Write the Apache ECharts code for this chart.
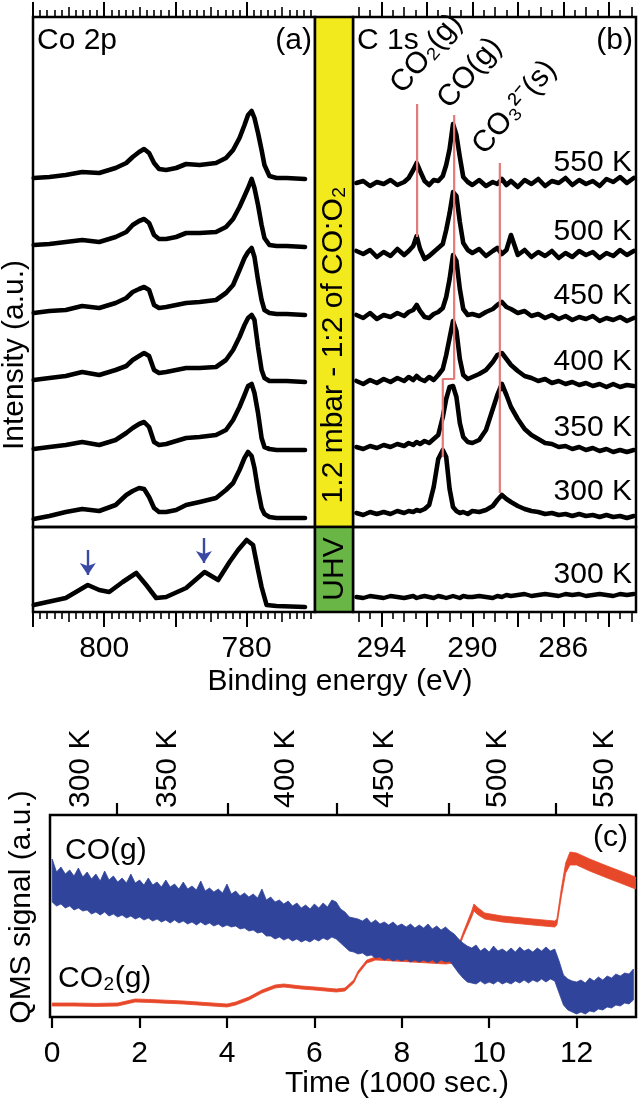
<!DOCTYPE html>
<html><head><meta charset="utf-8">
<script src="https://cdn.jsdelivr.net/npm/echarts@6/dist/echarts.min.js"></script>
<style>html,body{margin:0;padding:0;background:#fff}#c{width:640px;height:1101px}</style>
</head><body><div id="c"></div>
<script>
// ---------- Panel (a): Co 2p ----------
const coBE = [809.9, 807.7, 805.4, 803.1, 800.7, 798.4, 796.9, 796.0, 795.1, 794.4, 793.7, 793.0, 792.3, 791.3, 789.9, 788.5, 786.6, 784.3, 782.9, 781.9, 781.0, 780.3, 779.8, 779.3, 778.9, 778.4, 777.9, 777.5, 776.8, 775.8, 774.4, 771.8];
const co550 = [349, 350, 352, 355, 354, 359, 364, 370, 375, 378, 374, 364, 358, 357, 359, 363, 362, 364, 369, 377, 389, 402, 412, 416, 409, 394, 377, 362, 351, 349, 349, 348];
const co500 = [282, 283, 285, 287, 285, 290, 295, 302, 306, 308, 304, 292, 288, 288, 290, 294, 294, 295, 300, 308, 320, 331, 339, 348, 339, 322, 302, 289, 282, 281, 281, 280];
const co450 = [214, 216, 217, 221, 219, 224, 229, 235, 238, 240, 237, 222, 219, 220, 222, 224, 225, 227, 234, 242, 257, 269, 275, 279, 270, 247, 227, 217, 214, 213, 213, 212];
const co400 = [147, 149, 151, 155, 152, 157, 161, 167, 171, 174, 171, 157, 154, 155, 157, 159, 159, 160, 167, 177, 190, 202, 209, 212, 207, 180, 157, 149, 146, 146, 146, 145];
const co350 = [78, 80, 82, 85, 82, 87, 94, 99, 103, 105, 100, 85, 82, 83, 86, 89, 90, 92, 97, 107, 120, 132, 141, 143, 134, 114, 89, 80, 78, 77, 77, 77];
const co300 = [8, 11, 15, 18, 16, 22, 32, 36, 39, 38, 30, 19, 15, 15, 17, 22, 25, 29, 37, 44, 57, 69, 75, 71, 59, 37, 19, 13, 10, 9, 9, 9];
const coUhvBE = [809.9, 805.4, 802.3, 800.7, 799.3, 797.4, 795.5, 794.1, 792.7, 791.3, 788.5, 785.9, 784.0, 782.4, 781.2, 780.0, 779.1, 778.4, 777.9, 777.2, 775.8, 771.8];
const coUhv = [7, 14, 27, 22, 20, 30, 39, 27, 14, 15, 24, 40, 32, 50, 62, 72, 67, 42, 25, 7, 6, 5];
const coArrows = [[802.3, 62, 37], [786.0, 74, 49]];
const coMajorTicks = [780, 790, 800, 810];
const coMidTicks = [775, 785, 795, 805];
const coMinorTicks = [771,772,773,774,776,777,778,779,781,782,783,784,786,787,788,789,791,792,793,794,796,797,798,799,801,802,803,804,806,807,808,809];
const coTickLabels = [780, 800];

// ---------- Panel (b): C 1s ----------
const c1sBE = [295.1, 294.8, 294.5, 294.2, 293.9, 293.6, 293.3, 293.0, 292.8, 292.6, 292.45, 292.3, 292.1, 291.9, 291.7, 291.5, 291.3, 291.15, 291.0, 290.85, 290.7, 290.55, 290.4, 290.2, 290.0, 289.7, 289.4, 289.1, 288.9, 288.7, 288.5, 288.3, 288.0, 287.7, 287.4, 287.1, 286.8, 286.5, 286.2, 285.9, 285.6, 285.3, 285.0, 284.7, 284.4, 284.1, 283.8, 283.5, 283.2, 282.9];
const c550 = [344,346,341,345,343,347,342,345,349,357,364,356,346,342,347,346,351,362,378,403,392,370,350,345,342,347,341,345,343,348,342,346,340,347,343,348,341,346,344,349,342,347,343,346,341,348,345,350,344,349];
const c500 = [276,273,277,270,275,271,278,272,276,281,291,278,268,271,275,279,283,297,314,335,331,305,284,277,274,278,271,276,279,273,277,292,272,277,270,275,271,276,269,274,270,276,272,275,269,274,271,277,272,276];
const c450 = [212,209,214,208,212,210,214,211,215,217,222,216,210,209,213,215,219,230,248,272,266,238,218,212,213,211,215,218,222,225,220,218,214,216,211,213,209,212,208,211,207,210,208,211,206,209,207,210,206,209];
const c400 = [146,143,147,144,148,145,149,146,150,147,151,148,146,150,147,152,158,172,189,206,196,168,152,148,150,153,157,165,172,174,168,162,156,151,149,146,148,144,146,143,145,142,144,141,143,140,143,140,142,141];
const c350 = [80,78,81,79,82,80,83,81,84,82,85,83,86,84,88,92,110,128,140,141,130,104,90,85,84,87,97,118,132,143,132,120,108,98,92,88,84,83,80,81,78,80,77,79,76,78,75,77,75,77];
const c300 = [14,12,15,13,15,13,16,14,16,15,17,16,18,22,40,68,77,70,38,20,16,14,15,13,16,15,17,21,27,32,28,25,21,18,16,15,13,14,12,13,11,13,11,12,10,12,10,11,9,11];
const c1sUhv = [15,14,16,15,14,16,15,14,15,16,14,15,16,15,14,16,15,14,15,16,15,14,16,15,15,16,15,14,16,15,17,16,17,18,16,17,18,17,16,18,17,18,16,17,18,17,16,18,17,18];
const refCO2 = [[292.43, 423], [292.43, 290]];
const refCO = [[290.8, 412], [290.8, 148], [291.3, 148], [291.3, 70]];
const refCO3 = [[288.79, 364], [288.79, 34]];
const cMajorTicks = [284, 286, 288, 290, 292, 294];
const cMidTicks = [283, 285, 287, 289, 291, 293, 295];
const cMinorTicks = [283.5, 284.5, 285.5, 286.5, 287.5, 288.5, 289.5, 290.5, 291.5, 292.5, 293.5, 294.5];
const cTickLabels = [286, 290, 294];
const tempNames = ['550 K', '500 K', '450 K', '400 K', '350 K', '300 K'];

// ---------- Panel (c): QMS ----------
// [time (1000 s), lower edge, upper edge]
const qmsCO = [
[0.0,57.5,79],[0.1,55.5,72.5],[0.2,56.5,75],[0.3,54.5,71.5],[0.4,55.5,73.5],[0.5,53.5,70.5],[0.6,54.5,74.5],[0.7,53,70],[0.8,53.5,72.5],[0.9,51.5,69],
[1.0,52.5,71.5],[1.1,51,68],[1.2,52.5,73],[1.3,50.5,68.5],[1.4,51.5,70.5],[1.5,50,67.5],[1.6,51,69.5],[1.7,49.5,67],[1.8,50.5,71.5],[1.9,49,67],
[2.0,50,68.5],[2.1,48.5,66],[2.2,49.5,69.5],[2.3,48,66],[2.4,49,67.5],[2.5,47.5,65],[2.6,48.5,68.5],[2.7,47,65],[2.8,48.5,66.5],[2.9,47,64],
[3.0,48,67.5],[3.1,46.5,64],[3.2,47.5,65.5],[3.3,46,63.5],[3.4,47.5,68],[3.5,46,63],[3.6,47,64.5],[3.7,45.5,62.5],[3.8,46.5,64],[3.9,45,62],
[4.0,46,66.5],[4.1,45,61.5],[4.2,45.5,63],[4.3,44,60.5],[4.4,44.5,62],[4.5,43,60],[4.6,43.5,61.5],[4.7,42,59.5],[4.8,42.5,64],[4.9,40.5,58.5],
[5.0,40.5,60],[5.1,39,57.5],[5.2,40,58.5],[5.3,38.5,56.5],[5.4,39.5,58],[5.5,38,55.5],[5.6,39,57],[5.7,37.5,54.5],[5.8,38.5,56],[5.9,37.5,54],
[6.0,39,56.5],[6.1,38,54.5],[6.2,39.5,57],[6.3,38.5,55],[6.4,40,58.5],[6.5,39,57.5],[6.6,37,54],[6.7,35,52.5],[6.8,33,50],[6.9,32.5,49.5],
[7.0,31.5,49],[7.1,32,48],[7.2,30.5,49.5],[7.3,31,47],[7.4,29.5,48.5],[7.5,30,46.5],[7.6,28.5,47.5],[7.7,29.5,46],[7.8,28,47.5],[7.9,29,45.5],
[8.0,28,46.5],[8.1,29,45],[8.2,27.5,46.5],[8.3,28.5,44.5],[8.4,27.5,46],[8.5,28.5,44.5],[8.6,27.5,46.5],[8.7,28.5,44],[8.8,27,45.5],[8.9,28.5,43.5],
[9.0,27.5,45],[9.1,28,43],[9.2,25,41.5],[9.3,22,39],[9.4,19.5,37],[9.5,17.5,35.5],[9.6,17,34.5],[9.7,16.5,36],[9.8,18,33],[9.9,16.5,34.5],
[10.0,17.5,32.5],[10.1,16.5,35.5],[10.2,18,33],[10.3,16.5,34],[10.4,17.5,32.5],[10.5,16.5,34.5],[10.6,18,32.5],[10.7,17,35],[10.8,18.5,33],[10.9,17,34],
[11.0,18.5,32.5],[11.1,17.5,34.5],[11.2,19,33],[11.3,17.5,35],[11.4,19,33],[11.5,18,34],[11.6,12,28],[11.7,6,21],[11.8,3.5,19],[11.9,2.5,18],
[12.0,1.5,17.5],[12.1,2.5,18.5],[12.2,1.5,17],[12.3,3,19.5],[12.4,2.5,18],[12.5,4,20],[12.6,3.5,18.5],[12.7,5,20.5],[12.8,4.5,19.5],[12.9,6,21.5],
[13.0,5.5,20.5],[13.1,7,22],[13.2,6.5,21.5],[13.3,8.5,24]
];
const qmsCO2 = [
[0.0,5.5,7],[0.5,5.5,7],[1.0,5.3,6.8],[1.5,5.5,7],[1.7,6.5,8],[1.9,7.5,9],[2.2,7.3,8.8],[3.0,6.5,8],[4.0,5,6.5],[4.2,6,7.5],
[4.5,8.5,10],[4.8,12,13.5],[5.1,14.5,16],[5.3,15,16.5],[5.7,14,15.5],[6.0,13.5,15],[6.5,12.5,14],[6.7,13,14.5],[6.9,17,18.5],[7.0,21.5,23],
[7.2,27,28.5],[7.4,28.5,30],[8.0,27.8,29.3],[9.0,26.5,28],[9.2,27,28.5],[9.3,34,36],[9.4,40,42],[9.5,45,47.5],[9.6,50,53],[9.65,53,56.5],
[9.75,51,54.5],[9.9,49,52],[10.3,47.5,50.5],[11.0,46,49],[11.5,45,48],[11.55,46,49],[11.65,60,64],[11.75,72,77],[11.85,76,82.5],[12.0,76,82],
[12.3,73,79],[12.7,69.5,75.5],[13.0,67,73],[13.35,64,70]
];
const timeTicks = [0, 2, 4, 6, 8, 10, 12];
const tempBoundaries = [1.48, 4.02, 6.52, 9.08, 11.53];
const tempLabelPos = [0.65, 2.65, 5.35, 7.6, 10.2, 12.65];
const tempLabels = ['300 K', '350 K', '400 K', '450 K', '500 K', '550 K'];

// ---------- chart ----------
const FONT = '"Liberation Sans", Arial, Helvetica, sans-serif';
const BLUE = '#30449b', RED = '#e8482a', PINK = '#e47a7a';
const chart = echarts.init(document.getElementById('c'), null, {renderer: 'canvas'});

const gridDefs = [
  {left: 33, top: 17, width: 282, height: 510},
  {left: 33, top: 527, width: 282, height: 85},
  {left: 353, top: 17, width: 283, height: 510},
  {left: 353, top: 527, width: 283, height: 85},
  {left: 50, top: 815, width: 586, height: 202}
].map(g => Object.assign({show: true, borderColor: '#000', borderWidth: 2.5, backgroundColor: 'rgba(0,0,0,0)', containLabel: false, outerBoundsMode: 'none'}, g));

function xax(gridIndex, position, min, max, inverse, ticks, len, width, labels, extra) {
  const a = {
    type: 'value', gridIndex, position, min, max, inverse,
    axisLine: {show: false, onZero: false},
    splitLine: {show: false},
    axisTick: {show: true, inside: false, length: len, customValues: ticks, lineStyle: {color: '#000', width: width}},
    axisLabel: labels ? {show: true, customValues: labels, color: '#000', fontSize: 30, fontFamily: FONT, margin: 22} : {show: false}
  };
  return Object.assign(a, extra || {});
}
const A_MIN = 770.4, A_MAX = 810.0, B_MIN = 282.8, B_MAX = 295.25, C_MIN = -0.05, C_MAX = 13.36;
const xAxes = [
  xax(0, 'top', A_MIN, A_MAX, true, coMajorTicks, 15, 2),
  xax(0, 'top', A_MIN, A_MAX, true, coMidTicks, 10, 1.6),
  xax(0, 'top', A_MIN, A_MAX, true, coMinorTicks, 7, 1.6),
  xax(1, 'bottom', A_MIN, A_MAX, true, coMajorTicks, 15, 2, coTickLabels),
  xax(1, 'bottom', A_MIN, A_MAX, true, coMidTicks, 10, 1.6),
  xax(1, 'bottom', A_MIN, A_MAX, true, coMinorTicks, 7, 1.6),
  xax(2, 'top', B_MIN, B_MAX, true, cMajorTicks, 15, 2),
  xax(2, 'top', B_MIN, B_MAX, true, cMidTicks, 10, 1.6),
  xax(2, 'top', B_MIN, B_MAX, true, cMinorTicks, 7, 1.6),
  xax(3, 'bottom', B_MIN, B_MAX, true, cMajorTicks, 15, 2, cTickLabels),
  xax(3, 'bottom', B_MIN, B_MAX, true, cMidTicks, 10, 1.6),
  xax(3, 'bottom', B_MIN, B_MAX, true, cMinorTicks, 7, 1.6),
  xax(4, 'bottom', C_MIN, C_MAX, false, timeTicks, 11, 2.2, timeTicks),
  xax(4, 'top', C_MIN, C_MAX, false, tempBoundaries, 12, 2.2),
  {
    type: 'value', gridIndex: 4, position: 'top', min: C_MIN, max: C_MAX,
    axisLine: {show: false, onZero: false}, splitLine: {show: false}, axisTick: {show: false},
    axisLabel: {show: true, customValues: tempLabelPos, rotate: -90, margin: 7, color: '#000', fontSize: 30, fontFamily: FONT,
      formatter: v => tempLabels[tempLabelPos.indexOf(v)] || ''}
  }
];
const yRanges = [[0, 510], [0, 85], [0, 510], [0, 85], [0, 101]];
const yAxes = yRanges.map((r, i) => ({type: 'value', gridIndex: i, min: r[0], max: r[1], show: false, splitLine: {show: false}}));

function spec(xi, yi, be, vals, w) {
  return {type: 'line', xAxisIndex: xi, yAxisIndex: yi, data: be.map((b, i) => [b, vals[i]]),
    showSymbol: false, symbol: 'none', silent: true, z: 3,
    lineStyle: {color: '#000', width: w, join: 'round', cap: 'round'}};
}
function refLine(pts) {
  return {type: 'line', xAxisIndex: 6, yAxisIndex: 2, data: pts, showSymbol: false, symbol: 'none', silent: true, z: 5,
    lineStyle: {color: PINK, width: 2.2}};
}
function band(rows, color, z) {
  return {
    type: 'custom', xAxisIndex: 12, yAxisIndex: 4, z: z, clip: true, silent: true,
    data: [[rows[0][0], rows[0][1]]],
    renderItem: function (params, api) {
      const top = rows.map(r => api.coord([r[0], r[2]]));
      const bot = rows.slice().reverse().map(r => api.coord([r[0], r[1]]));
      return {type: 'polygon', shape: {points: top.concat(bot)}, style: {fill: color, stroke: color, lineWidth: 0.8}};
    }
  };
}

const series = [];
[co550, co500, co450, co400, co350, co300].forEach(a => series.push(spec(0, 0, coBE, a, 4.6)));
series.push(spec(3, 1, coUhvBE, coUhv, 4.6));
[c550, c500, c450, c400, c350, c300].forEach(a => series.push(spec(6, 2, c1sBE, a, 4.6)));
series.push(spec(9, 3, c1sBE, c1sUhv, 4.4));
series.push(refLine(refCO2), refLine(refCO), refLine(refCO3));
series.push({
  type: 'lines', coordinateSystem: 'cartesian2d', xAxisIndex: 3, yAxisIndex: 1, silent: true, z: 6,
  symbol: ['none', 'arrow'], symbolSize: 12,
  lineStyle: {color: '#3a49a3', width: 2.4, opacity: 1},
  data: coArrows.map(a => ({coords: [[a[0], a[1]], [a[0], a[2]]]}))
});
series.push(band(qmsCO2, RED, 3));
series.push(band(qmsCO, BLUE, 4));

function T(x, y, text, align, vAlign, rot, size) {
  return {type: 'text', x: x, y: y, rotation: rot || 0, z: 50, silent: true,
    style: {text: text, fill: '#000', fontSize: size || 30, fontFamily: FONT,
      align: align, verticalAlign: vAlign, textAlign: align, textVerticalAlign: vAlign}};
}
const tempY = [163, 232, 296, 362, 428, 492];
const graphics = [
  {type: 'rect', shape: {x: 315, y: 17, width: 38, height: 510}, style: {fill: '#f2ea1d', stroke: '#000', lineWidth: 2.5}, z: 1, silent: true},
  {type: 'rect', shape: {x: 315, y: 527, width: 38, height: 85}, style: {fill: '#69b646', stroke: '#000', lineWidth: 2.5}, z: 1, silent: true},
  T(37, 41, 'Co 2p', 'left', 'middle'),
  T(312, 41, '(a)', 'right', 'middle'),
  T(357, 41, 'C 1s', 'left', 'middle'),
  T(633, 41, '(b)', 'right', 'middle'),
  T(632, 575, '300 K', 'right', 'middle'),
  T(408, 99, 'CO₂(g)', 'left', 'bottom', 0.87),
  T(455, 114, 'CO(g)', 'left', 'bottom', 0.87),
  T(490, 160, 'CO₃²⁻(s)', 'left', 'bottom', 0.87),
  T(334, 345, '1.2 mbar - 1:2 of CO:O₂', 'center', 'middle', Math.PI / 2),
  T(335, 569, 'UHV', 'center', 'middle', Math.PI / 2),
  T(15, 355, 'Intensity (a.u.)', 'center', 'middle', Math.PI / 2),
  T(340, 682, 'Binding energy (eV)', 'center', 'middle'),
  T(628, 838, '(c)', 'right', 'middle'),
  T(65, 851, 'CO(g)', 'left', 'middle'),
  T(58, 979, 'CO₂(g)', 'left', 'middle'),
  T(22, 907, 'QMS signal (a.u.)', 'center', 'middle', Math.PI / 2),
  T(397, 1084, 'Time (1000 sec.)', 'center', 'middle')
];
tempNames.forEach((n, i) => graphics.push(T(632, tempY[i], n, 'right', 'middle')));

chart.setOption({
  animation: false,
  backgroundColor: '#fff',
  grid: gridDefs,
  xAxis: xAxes,
  yAxis: yAxes,
  series: series,
  graphic: {elements: graphics}
});
</script></body></html>
